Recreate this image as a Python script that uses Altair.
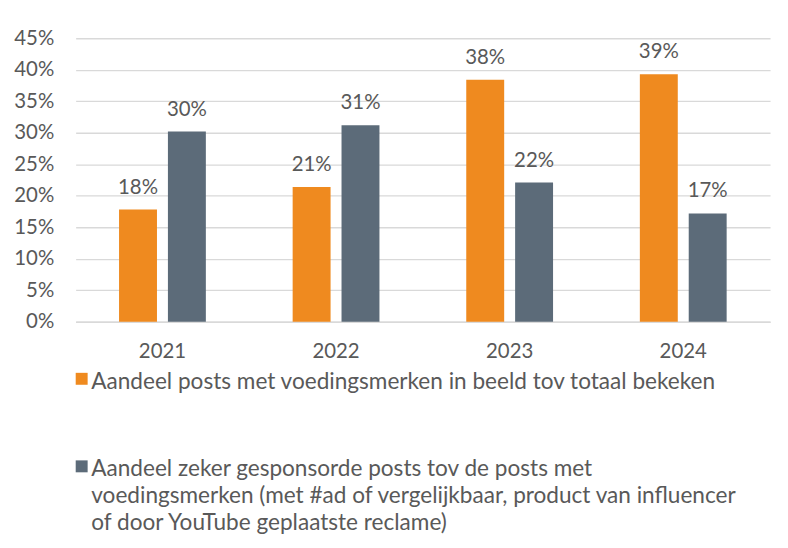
import altair as alt
import pandas as pd

years = ["2021", "2022", "2023", "2024"]
series = [
    "Aandeel posts met voedingsmerken in beeld tov totaal bekeken",
    "Aandeel zeker gesponsorde posts tov de posts met|voedingsmerken (met #ad of vergelijkbaar, product van influencer|of door YouTube geplaatste reclame)",
]
brand_share = [0.178, 0.214, 0.384, 0.393]
sponsored_share = [0.302, 0.312, 0.221, 0.172]
colors = ["#EF8A1F", "#5C6B79"]
y_ticks = [0, 0.05, 0.10, 0.15, 0.20, 0.25, 0.30, 0.35, 0.40, 0.45]

rows = []
for i, yr in enumerate(years):
    rows.append({"year": yr, "series": series[0], "value": brand_share[i]})
    rows.append({"year": yr, "series": series[1], "value": sponsored_share[i]})
df = pd.DataFrame(rows)

FONT = "Lato"
TXT = "#595959"
FS = 20.5
LFS = 22.7

x = alt.X("year:N", title=None,
          scale=alt.Scale(paddingInner=0.5, paddingOuter=0.25),
          axis=alt.Axis(labelAngle=0, ticks=False, domainColor="#D9D9D9",
                        domainWidth=1.5, labelPadding=20, grid=False,
                        labelFont=FONT, labelFontSize=FS, labelColor=TXT))
xo = alt.XOffset("series:N", sort=series,
                 scale=alt.Scale(paddingInner=0.224, paddingOuter=0))
y = alt.Y("value:Q", title=None,
          scale=alt.Scale(domain=[0, 0.45], nice=False),
          axis=alt.Axis(format=".0%", values=y_ticks, ticks=False, domain=False,
                        gridColor="#D9D9D9", gridWidth=1.3, labelPadding=22,
                        labelFont=FONT, labelFontSize=FS, labelColor=TXT))

bars = alt.Chart(df).mark_bar().encode(
    x=x, xOffset=xo, y=y,
    color=alt.Color("series:N", sort=series,
                    scale=alt.Scale(domain=series, range=colors),
                    legend=alt.Legend(
                        title=None, orient="none", legendX=-8, legendY=323,
                        direction="vertical",
                        symbolType="M-0.55,0.33L1.45,0.33L1.45,2.33L-0.55,2.33Z",
                        symbolSize=144, symbolStrokeWidth=0,
                        labelExpr="split(datum.label, '|')",
                        labelLimit=0, rowPadding=53, labelOffset=1,
                        labelBaseline="top", labelFont=FONT,
                        labelFontSize=LFS, labelColor=TXT)),
)

text = alt.Chart(df).mark_text(baseline="middle", dy=-22, font=FONT,
                               fontSize=FS, color=TXT).encode(
    x=x, xOffset=xo, y=y,
    text=alt.Text("value:Q", format=".0%"),
)

chart = (bars + text).properties(
    width=698, height=285,
    autosize=alt.AutoSizeParams(type="none"),
    padding={"left": 68, "top": 29, "right": 10, "bottom": 222},
).configure(
    font=FONT,
    view=alt.ViewConfig(stroke=None),
    style={"guide-label": {"lineHeight": 27, "font": FONT, "fontSize": FS,
                           "fill": TXT}},
)

chart.save("out.html", embed_options={"renderer": "svg", "actions": False})
